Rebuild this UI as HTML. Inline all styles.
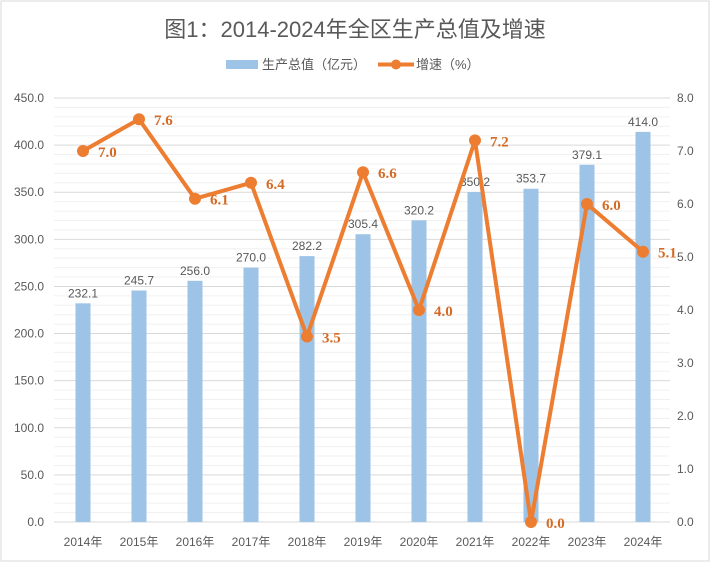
<!DOCTYPE html>
<html><head><meta charset="utf-8"><style>
body{margin:0;background:#fff}
svg{display:block}
text{font-family:"Liberation Sans","Noto Sans CJK SC",sans-serif}
</style></head><body>
<svg width="710" height="562" viewBox="0 0 710 562" xmlns="http://www.w3.org/2000/svg">
<rect x="1" y="1" width="708" height="560" fill="#fff" stroke="#d9d9d9"/>
<text x="355" y="37" font-size="22" fill="#595959" text-anchor="middle">图1：2014-2024年全区生产总值及增速</text>
<rect x="226" y="60" width="32" height="9" fill="#9dc3e6"/>
<text x="262" y="69" font-size="13" fill="#595959">生产总值（亿元）</text>
<line x1="378" y1="64.5" x2="414" y2="64.5" stroke="#ed7d31" stroke-width="4"/>
<circle cx="396" cy="64.5" r="5" fill="#ed7d31"/>
<text x="416" y="69" font-size="13" fill="#595959">增速（%）</text>
<g id="grid"></g>
<g id="bars"></g>
<g id="lbl" font-size="12" fill="#595959"></g>
<polyline id="ln" fill="none" stroke="#ed7d31" stroke-width="4" stroke-linejoin="round"/>
<g id="pts"></g>
</svg>
<script>
const ns="http://www.w3.org/2000/svg";
function el(p,t,a,txt){const e=document.createElementNS(ns,t);for(const k in a)e.setAttribute(k,a[k]);if(txt!==undefined)e.textContent=txt;document.getElementById(p)?document.getElementById(p).appendChild(e):p.appendChild(e);return e;}
const L=54,R=670,T=98,B=522;
const yL=v=>B-v*(B-T)/450, yR=v=>B-v*(B-T)/8;
for(let v=0;v<=450;v+=10){const y=yL(v);const major=v%50==0;
 el("grid","line",{x1:L,x2:R,y1:y,y2:y,stroke:major?"#d9d9d9":"#f0f0f0","stroke-width":1});
 if(major){el("lbl","text",{x:44,y:y+4,"text-anchor":"end"},v.toFixed(1));}
}
for(let v=0;v<=8;v++){el("lbl","text",{x:677,y:yR(v)+4},v.toFixed(1));}
const gdp=[232.1,245.7,256.0,270.0,282.2,305.4,320.2,350.2,353.7,379.1,414.0];
const gr=[7.0,7.6,6.1,6.4,3.5,6.6,4.0,7.2,0.0,6.0,5.1];
let pts=[];
gdp.forEach((v,i)=>{const cx=83+56*i;const y=yL(v);
 el("bars","rect",{x:cx-7.5,y:y,width:15,height:B-y,fill:"#9dc3e6"});
 el("lbl","text",{x:cx,y:y-6,"text-anchor":"middle"},v.toFixed(1));
 el("lbl","text",{x:cx,y:546,"text-anchor":"middle"},(2014+i)+"年");
 const py=yR(gr[i]);pts.push(cx+","+py);
 el("pts","circle",{cx:cx,cy:py,r:6,fill:"#ed7d31"});
 el("pts","text",{x:cx+15,y:py+6,"font-size":15,"font-weight":"bold",fill:"#d46b26",style:"font-family:'Liberation Serif',serif"},gr[i].toFixed(1));
});
document.getElementById("ln").setAttribute("points",pts.join(" "));
</script>
</body></html>
